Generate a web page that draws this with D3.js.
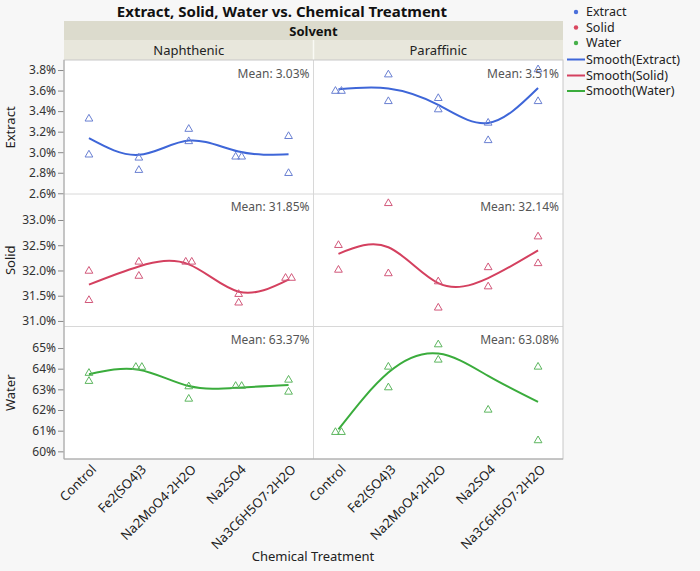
<!DOCTYPE html>
<html><head><meta charset="utf-8">
<script src="https://cdn.jsdelivr.net/npm/d3@7"></script>
<style>
html,body{margin:0;padding:0;background:#f7f7f7;}
svg{display:block;font-family:"Noto Sans","Open Sans",sans-serif;}
</style></head>
<body>
<script>
// ---------- data ----------
const categories = ["Control","Fe2(SO4)3","Na2MoO4·2H2O","Na2SO4","Na3C6H5O7·2H2O"];
const solvents = ["Naphthenic","Paraffinic"];
const responses = ["Extract","Solid","Water"];

// observed values per category (percent)
const extractNaphthenic = [[3.33,2.98],[2.95,2.83],[3.23,3.11],[2.96,2.96],[3.16,2.80]];
const extractParaffinic = [[3.60,3.60],[3.76,3.50],[3.53,3.42],[3.29,3.12],[3.50,3.81]];
const solidNaphthenic   = [[32.00,31.42],[32.18,31.90],[32.18,32.18],[31.54,31.37],[31.86,31.86]];
const solidParaffinic   = [[32.51,32.02],[33.34,31.95],[31.79,31.27],[32.07,31.69],[32.68,32.15]];
const waterNaphthenic   = [[63.81,63.42],[64.10,64.10],[63.16,62.56],[63.18,63.18],[63.48,62.90]];
const waterParaffinic   = [[60.95,60.95],[64.11,63.11],[65.19,64.45],[62.03],[64.11,60.55]];

// smoother values at each category
const smoothExtractNaphthenic = [3.136,2.974,3.113,3.006,2.980];
const smoothExtractParaffinic = [3.613,3.620,3.460,3.285,3.625];
const smoothSolidNaphthenic   = [31.72,32.08,32.12,31.58,31.82];
const smoothSolidParaffinic   = [32.33,32.46,31.75,31.85,32.40];
const smoothWaterNaphthenic   = [63.73,63.95,63.16,63.08,63.21];
const smoothWaterParaffinic   = [61.06,63.81,64.73,63.65,62.39];

const meanLabels = [["3.03%","3.51%"],["31.85%","32.14%"],["63.37%","63.08%"]];

const extractTicks = [2.6,2.8,3.0,3.2,3.4,3.6,3.8];
const solidTicks   = [31.0,31.5,32.0,32.5,33.0];
const waterTicks   = [60,61,62,63,64,65];

const legendItems = ["Extract","Solid","Water","Smooth(Extract)","Smooth(Solid)","Smooth(Water)"];

// ---------- layout ----------
const W = 700, H = 571;
const X0 = 64, X1 = 563, XM = 313.5;
const rowBounds = [[61,194],[194,326.5],[326.5,459]];
const yDomains = [[2.593,3.888],[30.89,33.515],[59.63,66.04]];
const tickSets = [extractTicks, solidTicks, waterTicks];
const tickFormats = [d3.format(".1f"), d3.format(".1f"), d3.format("d")];
const pointData = [[extractNaphthenic,extractParaffinic],[solidNaphthenic,solidParaffinic],[waterNaphthenic,waterParaffinic]];
const smoothData = [[smoothExtractNaphthenic,smoothExtractParaffinic],[smoothSolidNaphthenic,smoothSolidParaffinic],[smoothWaterNaphthenic,smoothWaterParaffinic]];
const lineColors = ["#3e66d8","#d4405f","#3aac3c"];
const markColors = ["#6a80d2","#d2587a","#5db65f"];
const dotColors  = ["#4a6fdb","#d9475f","#46b04a"];

const svg = d3.select("body").append("svg").attr("width",W).attr("height",H);
svg.append("rect").attr("width",W).attr("height",H).attr("fill","#f7f7f7");

// title
svg.append("text").attr("x",282).attr("y",17).attr("text-anchor","middle")
  .attr("font-size",15).attr("font-weight","bold").attr("fill","#111")
  .text("Extract, Solid, Water vs. Chemical Treatment");

// header bands
svg.append("rect").attr("x",X0).attr("y",21).attr("width",X1-X0).attr("height",19).attr("fill","#dcdbcd");
svg.append("text").attr("x",(X0+X1)/2).attr("y",35.5).attr("text-anchor","middle")
  .attr("font-size",13).attr("font-weight","bold").attr("fill","#111").text("Solvent");
const colX = d3.scaleBand().domain(solvents).range([X0,X1]);
solvents.forEach(s=>{
  svg.append("rect").attr("x",colX(s)).attr("y",40).attr("width",colX.bandwidth()).attr("height",20).attr("fill","#e8e7dc");
  svg.append("text").attr("x",colX(s)+colX.bandwidth()/2).attr("y",55).attr("text-anchor","middle")
    .attr("font-size",13).attr("fill","#222").text(s);
});
svg.append("line").attr("x1",XM).attr("x2",XM).attr("y1",40).attr("y2",60).attr("stroke","#fafaf5").attr("stroke-width",1.5);

// plot background
svg.append("rect").attr("x",X0).attr("y",60).attr("width",X1-X0).attr("height",459-60).attr("fill","#fff");

const tri = d3.symbol().type(d3.symbolTriangle).size(26);

responses.forEach((resp,ri)=>{
  const [top,bot] = rowBounds[ri];
  const y = d3.scaleLinear().domain(yDomains[ri]).range([bot,top]);
  // y axis
  const ax = svg.append("g").attr("transform",`translate(${X0},0)`)
    .call(d3.axisLeft(y).tickValues(tickSets[ri]).tickFormat(d=>tickFormats[ri](d)+"%").tickSize(6).tickPadding(2));
  ax.select(".domain").remove();
  ax.selectAll(".tick line").attr("stroke","#888");
  ax.selectAll(".tick text").attr("font-size",12).attr("fill","#333").attr("font-family","Noto Sans, sans-serif");
  // row title
  svg.append("text").attr("transform",`translate(15,${(top+bot)/2}) rotate(-90)`)
    .attr("text-anchor","middle").attr("font-size",13).attr("fill","#222").text(resp);

  solvents.forEach((sol,si)=>{
    const x = d3.scaleBand().domain(categories).range([colX(sol),colX(sol)+colX.bandwidth()]);
    const cx = c=>x(c)+x.bandwidth()/2;
    const g = svg.append("g");
    // smooth line
    const line = d3.line().x((d,i)=>cx(categories[i])).y(d=>y(d)).curve(d3.curveNatural);
    g.append("path").datum(smoothData[ri][si]).attr("d",line).attr("fill","none")
      .attr("stroke",lineColors[ri]).attr("stroke-width",2);
    // points with jitter for overlapping values
    const pts = [];
    pointData[ri][si].forEach((vals,ci)=>{
      vals.forEach((v,k)=>{
        let off = 0;
        if (vals.length===2 && Math.abs(y(vals[0])-y(vals[1]))<4) off = k===0?-3:3;
        pts.push({x:cx(categories[ci])+off, y:y(v)});
      });
    });
    g.selectAll("path.pt").data(pts).join("path").attr("class","pt")
      .attr("d",tri).attr("transform",d=>`translate(${d.x},${d.y+0.5})`)
      .attr("fill","none").attr("stroke",markColors[ri]).attr("stroke-width",1);
    // mean label
    g.append("text").attr("x",colX(sol)+colX.bandwidth()-4).attr("y",top+17)
      .attr("text-anchor","end").attr("font-size",12).attr("fill","#555")
      .text("Mean: "+meanLabels[ri][si]);
  });
  // row separator
  if (ri>0) svg.append("line").attr("x1",X0).attr("x2",X1).attr("y1",top).attr("y2",top).attr("stroke","#d8d8d8");
});

// panel borders
svg.append("line").attr("x1",XM).attr("x2",XM).attr("y1",60).attr("y2",459).attr("stroke","#d8d8d8");
svg.append("rect").attr("x",X0).attr("y",60).attr("width",X1-X0).attr("height",399).attr("fill","none").attr("stroke","#c8c8c8");
svg.append("line").attr("x1",X0).attr("x2",X0).attr("y1",60).attr("y2",459).attr("stroke","#a8a8a8");
svg.append("line").attr("x1",X0).attr("x2",X1).attr("y1",459).attr("y2",459).attr("stroke","#a8a8a8");

// x labels
solvents.forEach(sol=>{
  const x = d3.scaleBand().domain(categories).range([colX(sol),colX(sol)+colX.bandwidth()]);
  categories.forEach(c=>{
    const px = x(c)+x.bandwidth()/2;
    svg.append("text").attr("transform",`translate(${px+5},${467}) rotate(-45)`)
      .attr("text-anchor","end").attr("dy","0.35em").attr("font-size",13).attr("fill","#222").text(c);
  });
});
svg.append("text").attr("x",313).attr("y",561).attr("text-anchor","middle")
  .attr("font-size",13).attr("fill","#222").text("Chemical Treatment");

// legend
const lg = svg.append("g");
legendItems.forEach((t,i)=>{
  const yy = [12,27.5,43,59.5,75.5,91][i];
  if (i<3) lg.append("circle").attr("cx",576).attr("cy",yy).attr("r",2.2).attr("fill",dotColors[i]);
  else lg.append("line").attr("x1",567).attr("x2",585).attr("y1",yy).attr("y2",yy).attr("stroke",lineColors[i-3]).attr("stroke-width",2);
  lg.append("text").attr("x",586).attr("y",yy).attr("dy","0.35em").attr("font-size",12.5).attr("fill","#222").text(t);
});
</script>
</body></html>
